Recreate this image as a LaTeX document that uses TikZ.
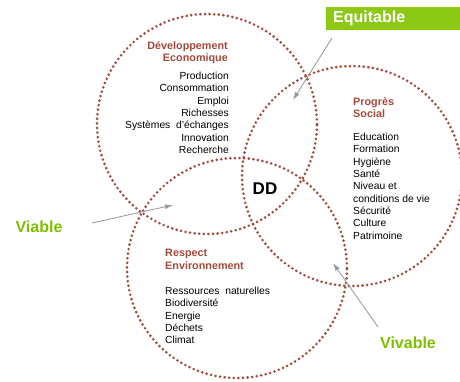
\documentclass[tikz,border=0pt]{standalone}
\usepackage{fontspec}
\setmainfont{Liberation Sans}
\usetikzlibrary{arrows.meta}

\definecolor{brique}{HTML}{A3493B}
\definecolor{pomme}{HTML}{7CC000}
\definecolor{pommebox}{HTML}{8DC814}
\definecolor{gris}{HTML}{9A9A9A}

\tikzset{cercle/.style={circle,draw=brique,line width=2.9pt,line cap=round,
		dash pattern=on 0pt off 4.6pt,minimum size=220pt,inner sep=0pt}
}
\tikzstyle{titre}=[text=brique,font=\bfseries\fontsize{10.8}{12.8}\selectfont,inner sep=0pt]
\tikzstyle{liste}=[font=\fontsize{10.3}{12.3}\selectfont,inner sep=0pt]
\tikzstyle{vert}=[text=pomme,font=\bfseries\fontsize{16}{18}\selectfont,inner sep=0pt]
\tikzstyle{fleche}=[-{Latex[length=8pt,width=5pt]},draw=gris,fill=gris,line width=0.8pt]

\begin{document}
\begin{tikzpicture}[x=1pt,y=-1pt]
			\useasboundingbox (0,0) rectangle (460,381);
			% les trois cercles
			\node[cercle] (eco) at (207,124) {};
			\node[cercle] (soc) at (352,176) {};
			\node[cercle] (env) at (237,268) {};
			\node[font=\bfseries\fontsize{17}{19}\selectfont,inner sep=0pt] (dd) at (265,189) {DD};
			% economique
			\node[titre,align=right,anchor=north east] (ecoT) at (228,41) {D\'eveloppement\\Economique};
			\node[liste,align=right,anchor=north east] (ecoL) at (229,72) {Production\ \\Consommation\ \\Emploi\\Richesses\\Syst\`emes\ \ d'\'echanges\\Innovation\\Recherche};
			% social
			\node[titre,align=left,anchor=north west] (socT) at (353,97) {Progr\`es\\Social};
			\node[liste,align=left,anchor=north west] (socL) at (353,133) {Education\\Formation\\Hygi\`ene\\Sant\'e\\Niveau et\\conditions de vie\\S\'ecurit\'e\\Culture\\Patrimoine};
			% environnement
			\node[titre,align=left,anchor=north west] (envT) at (165,249) {Respect\\Environnement};
			\node[liste,align=left,anchor=north west] (envL) at (165,287) {Ressources\ \ naturelles\\Biodiversit\'e\\Energie\\D\'echets\\Climat};
			% les trois qualificatifs
			\node[fill=pommebox,minimum width=134pt,minimum height=23pt,anchor=north west,inner sep=0pt] (equi) at (326,7) {};
			\node[text=white,font=\bfseries\fontsize{16}{18}\selectfont,anchor=west,inner sep=0pt] (equiT) at (333,18.5) {Equitable};
			\node[vert] (viable) at (39,227) {Viable};
			\node[vert] (vivable) at (408,343) {Vivable};
			\coordinate (eqA) at (332,38);
			\coordinate (eqB) at (293,100);
			\coordinate (viA) at (92,223);
			\coordinate (viB) at (173,205);
			\coordinate (vvA) at (378,327);
			\coordinate (vvB) at (333,263);
			\draw[fleche] (eqA) -- (eqB);
			\draw[fleche] (viA) -- (viB);
			\draw[fleche] (vvA) -- (vvB);
		\end{tikzpicture}
\end{document}
